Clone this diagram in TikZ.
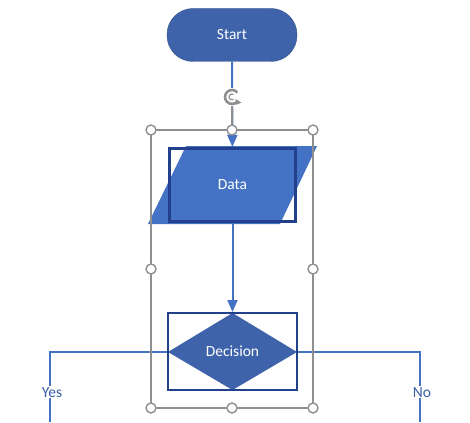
\documentclass[tikz,border=0pt]{standalone}
\usepackage{fontspec}
\setmainfont{Carlito}
\usetikzlibrary{arrows.meta}
\definecolor{shapeblue}{HTML}{3E63AA}
\definecolor{datablue}{HTML}{4472C4}
\definecolor{navy}{HTML}{23408C}
\definecolor{linkblue}{HTML}{4472C4}
\definecolor{labelblue}{HTML}{3A5FA8}
\definecolor{selgray}{HTML}{8F8F8F}

\begin{document}
\begin{tikzpicture}[x=1pt,y=-1pt,
    every node/.style={font=\fontsize{15.5}{18}\selectfont},
    flow/.style={draw=linkblue,line width=2pt,-{Triangle[width=10pt,length=12pt]}},
    branch/.style={draw=linkblue,line width=2pt},
    handle/.style={circle,draw=selgray,fill=white,line width=1.4pt,inner sep=0pt,minimum size=10pt},
    lbl/.style={fill=white,text=labelblue,inner sep=1pt,xshift=2pt}]
    \useasboundingbox (0,0) rectangle (470,422);
        % shapes
        \node[draw=shapeblue!80!black,fill=shapeblue,rounded corners=26pt,minimum width=130pt,minimum height=53pt,text=white] (start) at (232,35) {Start};
        \fill[datablue] (186,146) -- (317,146) -- (280,224) -- (148,224) -- cycle;
        \node[draw=navy,line width=3.2pt,minimum width=126pt,minimum height=73pt,text=white] (data) at (232.5,185) {Data};
        \fill[shapeblue] (232.5,313) -- (297,352) -- (232.5,390) -- (168,352) -- cycle;
        \node[draw=navy,line width=2pt,minimum width=129pt,minimum height=77pt,text=white] (dec) at (232.5,351.5) {Decision};
        \coordinate (yesend) at (50,422);
        \coordinate (noend) at (420,422);
        % connectors
        \draw[flow] (start) -- (data);
        \draw[flow] (data) -- (dec);
        \draw[branch] (dec.west) -| node[lbl,pos=0.79] {Yes} (yesend);
        \draw[branch] (dec.east) -| node[lbl,pos=0.79] {No} (noend);
        % selection frame
        \draw[selgray,line width=1.2pt] (151,130) rectangle (313,408);
        \coordinate (rot) at (232,97);
        \foreach \x/\y/\n in {151/130/nw,232/130/n,313/130/ne,151/269/w,313/269/e,151/408/sw,232/408/s,313/408/se}
            \node[handle] (h\n) at (\x,\y) {};
        \draw[selgray,line width=1.6pt] (rot) -- (hn);
        \fill[white] (rot) circle (9);
        \draw[selgray,line width=2.6pt] ([shift={(-40:7)}]rot) arc[start angle=-40,end angle=-320,radius=7];
        \draw[selgray,line width=1.2pt] ([shift={(-60:3)}]rot) arc[start angle=-60,end angle=-300,radius=3];
        \fill[selgray] ([shift={(-330:4)}]rot) -- ([shift={(-330:11)}]rot) -- ([shift={(-300:9)}]rot) -- cycle;
    \end{tikzpicture}
\end{document}
